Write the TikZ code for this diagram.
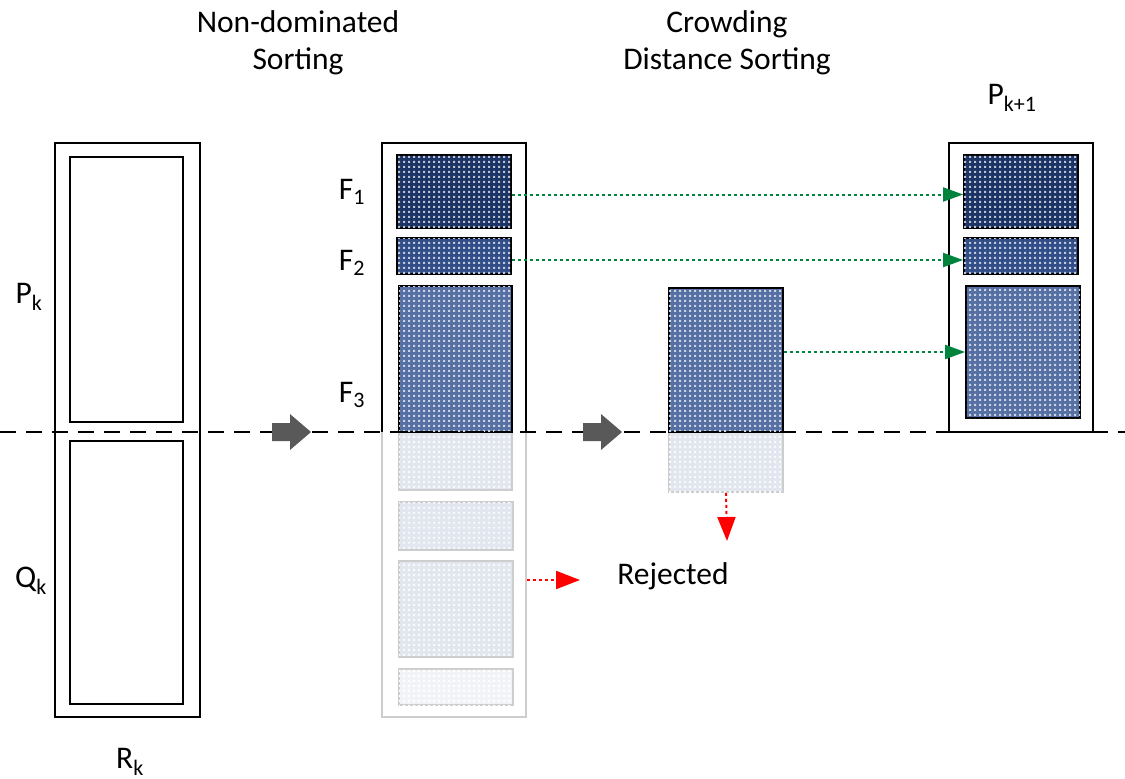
\documentclass[tikz,border=0pt]{standalone}
\usepackage{fontspec}
\setmainfont{Carlito}
\usetikzlibrary{arrows.meta,patterns.meta,fit}

% small light square grid used as the texture of the front blocks
\tikzdeclarepattern{
  name=dotgrid, type=uncolored,
  bounding box={(0pt,0pt) and (5.1pt,5.1pt)},
  tile size={(5.1pt,5.1pt)},
  code={\fill (1.45pt,1.45pt) rectangle (3.65pt,3.65pt);}
}

\definecolor{fdark}{HTML}{1B3465}
\definecolor{fmid}{HTML}{324E88}
\definecolor{flight}{HTML}{5670A3}
\definecolor{fpale}{HTML}{E2E6EE}
\definecolor{fpaler}{HTML}{F1F3F6}
\definecolor{paleedge}{HTML}{CDCDCD}
\definecolor{okgreen}{HTML}{00843D}
\definecolor{blockgray}{HTML}{595959}

\tikzset{
  box/.style={draw=black, line width=1.8pt, inner sep=0pt},
  palebox/.style={draw=paleedge, line width=1.8pt, inner sep=0pt},
  front1/.style={box, fill=fdark, postaction={pattern=dotgrid, pattern color=white!70!fdark}},
  front2/.style={box, fill=fmid, postaction={pattern=dotgrid, pattern color=white!70!fmid}},
  front3/.style={box, fill=flight, postaction={pattern=dotgrid, pattern color=white!70!flight}},
  rest/.style={palebox, fill=fpale, postaction={pattern=dotgrid, pattern color=white!80!fpale}},
  restfaint/.style={palebox, fill=fpaler, postaction={pattern=dotgrid, pattern color=white}},
  keep/.style={okgreen, line width=2pt, dash pattern=on 3pt off 3pt,
    -{Triangle[length=20pt,width=14pt]}},
  drop/.style={red, line width=2pt, dash pattern=on 3pt off 3pt,
    -{Triangle[length=24pt,width=18pt]}},
  lbl/.style={font=\fontsize{31.5}{37}\selectfont, align=center, inner sep=0pt},
  flow/.style={fill=blockgray},
}

\begin{document}
\begin{tikzpicture}[x=1pt,y=-1pt]
\useasboundingbox (0,0) rectangle (1125,779);

% ---- combined population R_k ----
\node[box, fit={(55,143)(200,717)}] (R) {};
\node[box, fit={(70,157)(183,422)}] (Pk) {};
\node[box, fit={(70,441)(183,704)}] (Qk) {};

% ---- fronts after non-dominated sorting ----
\draw[palebox] (382,432) -- (382,717) -- (526,717) -- (526,432);
\draw[box] (382,432) -- (382,143) -- (526,143) -- (526,432);
\node[front1, fit={(397,155)(511,228)}] (F1) {};
\node[front2, fit={(397,238)(511,274)}] (F2) {};
\node[rest, fit={(399,432)(512,490)}] (F3low) {};
\node[front3, fit={(399,286)(512,432)}] (F3) {};
\node[rest, fit={(399,502)(513,550)}] (F4) {};
\node[rest, fit={(399,561)(513,657)}] (F5) {};
\node[restfaint, fit={(399,669)(513,705)}] (F6) {};

% ---- crowding distance sorting of the last front ----
\node[rest, fit={(669,432)(783,492)}] (Clow) {};
\node[front3, fit={(669,288)(783,432)}] (C) {};

% ---- next population P_{k+1} ----
\node[box, fit={(949,143)(1093,432)}] (Pn) {};
\node[front1, fit={(964,155)(1078,228)}] (N1) {};
\node[front2, fit={(964,238)(1078,274)}] (N2) {};
\node[front3, fit={(966,286)(1080,418)}] (N3) {};

% ---- population cut line ----
\draw[black, line width=1.5pt, dash pattern=on 16pt off 10pt] (0,432) -- (1125,432);

% ---- flow arrows ----
\fill[flow] (272,423) -- (290,423) -- (290,414) -- (311,432) -- (290,450) -- (290,441) -- (272,441) -- cycle;
\fill[flow] (583,423) -- (601,423) -- (601,414) -- (622,432) -- (601,450) -- (601,441) -- (583,441) -- cycle;

% ---- kept individuals ----
\draw[keep] ([yshift=-3pt]F1.east) -- ([yshift=-3pt]N1.west);
\draw[keep] ([yshift=-4pt]F2.east) -- ([yshift=-4pt]N2.west);
\draw[keep] (C.east |- N3.west) -- (N3.west);

% ---- rejected individuals ----
\node[lbl] (rej) at (673,576) {Rejected};
\coordinate (rejL) at (580,580);
\coordinate (rejD) at (727,541);
\draw[drop] (527,580) -- (rejL);
\draw[drop] (Clow.south) -- (rejD);

% ---- labels ----
\node[lbl] (t1) at (298,43) {Non-dominated\\Sorting};
\node[lbl] (t2) at (727,43) {Crowding\\Distance Sorting};
\node[lbl] (lpn) at (1012,98) {P\textsubscript{k+1}};
\node[lbl] (lf1) at (352,192) {F\textsubscript{1}};
\node[lbl] (lf2) at (352,263) {F\textsubscript{2}};
\node[lbl] (lf3) at (352,395) {F\textsubscript{3}};
\node[lbl] (lpk) at (29,297) {P\textsubscript{k}};
\node[lbl] (lqk) at (31,581) {Q\textsubscript{k}};
\node[lbl] (lrk) at (130,762) {R\textsubscript{k}};
\end{tikzpicture}
\end{document}
